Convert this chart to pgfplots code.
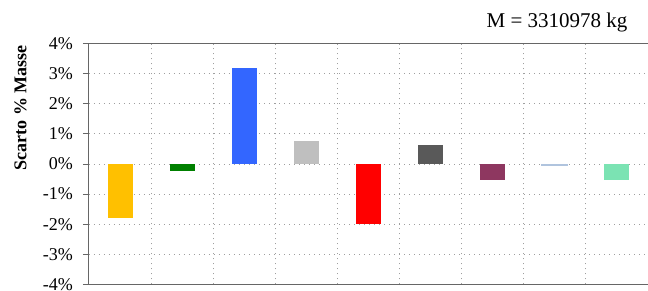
\documentclass[border=0pt]{standalone}
\usepackage{fontspec}
\setmainfont{Liberation Serif}
\usepackage{pgfplots}
\pgfplotsset{compat=1.18}
\definecolor{c1}{HTML}{FFC000}
\definecolor{c2}{HTML}{008000}
\definecolor{c3}{HTML}{3366FF}
\definecolor{c4}{HTML}{BFBFBF}
\definecolor{c5}{HTML}{FF0000}
\definecolor{c6}{HTML}{595959}
\definecolor{c7}{HTML}{8E3760}
\definecolor{c8}{HTML}{B0C4DE}
\definecolor{c9}{HTML}{7BE3B3}
\begin{document}
\begin{tikzpicture}[x=1pt,y=1pt]
\path[use as bounding box] (-89,-6.5) rectangle (559,284.5);
\begin{axis}[
  at={(0,0)}, anchor=south west,
  scale only axis, width=559pt, height=241pt,
  xmin=0, xmax=9, ymin=-4, ymax=4,
  xtick={1,2,3,4,5,6,7,8}, xticklabels={},
  x tick style={draw=none},
  ytick={-4,-3,-2,-1,0,1,2,3,4},
  yticklabels={-4\%,-3\%,-2\%,-1\%,0\%,1\%,2\%,3\%,4\%},
  tick align=outside, major tick length=6pt,
  y tick style={gray!80!black, line width=0.8pt},
  axis y line*=left,
  axis line style={gray!80!black, line width=1pt},
  ymajorgrids, xmajorgrids,
  grid style={gray!75, line width=0.9pt, dash pattern=on 1pt off 4pt},
  tick label style={font=\fontsize{18}{20}\selectfont},
  yticklabel style={xshift=-6.5pt},
  ylabel={Scarto \% Masse},
  ylabel style={font=\fontsize{18}{20}\selectfont\bfseries, at={(axis description cs:-0.1225,0.734)}, anchor=center},
  title={M = 3310978 kg},
  title style={font=\fontsize{21}{24}\selectfont, at={(axis description cs:1,1)}, anchor=base east, yshift=10.5pt, xshift=-17pt},
  every axis plot/.append style={ybar, bar width=25pt, bar shift=0pt, draw=none},
]
\addplot[fill=c1] coordinates {(0.5,-1.80)};
\addplot[fill=c2] coordinates {(1.5,-0.24)};
\addplot[fill=c3] coordinates {(2.5,3.18)};
\addplot[fill=c4] coordinates {(3.5,0.75)};
\addplot[fill=c5] coordinates {(4.5,-2.00)};
\addplot[fill=c6] coordinates {(5.5,0.62)};
\addplot[fill=c7] coordinates {(6.5,-0.54)};
\addplot[fill=c8, bar width=27pt] coordinates {(7.5,-0.05)};
\addplot[fill=c9] coordinates {(8.5,-0.54)};
\end{axis}
\end{tikzpicture}
\end{document}
